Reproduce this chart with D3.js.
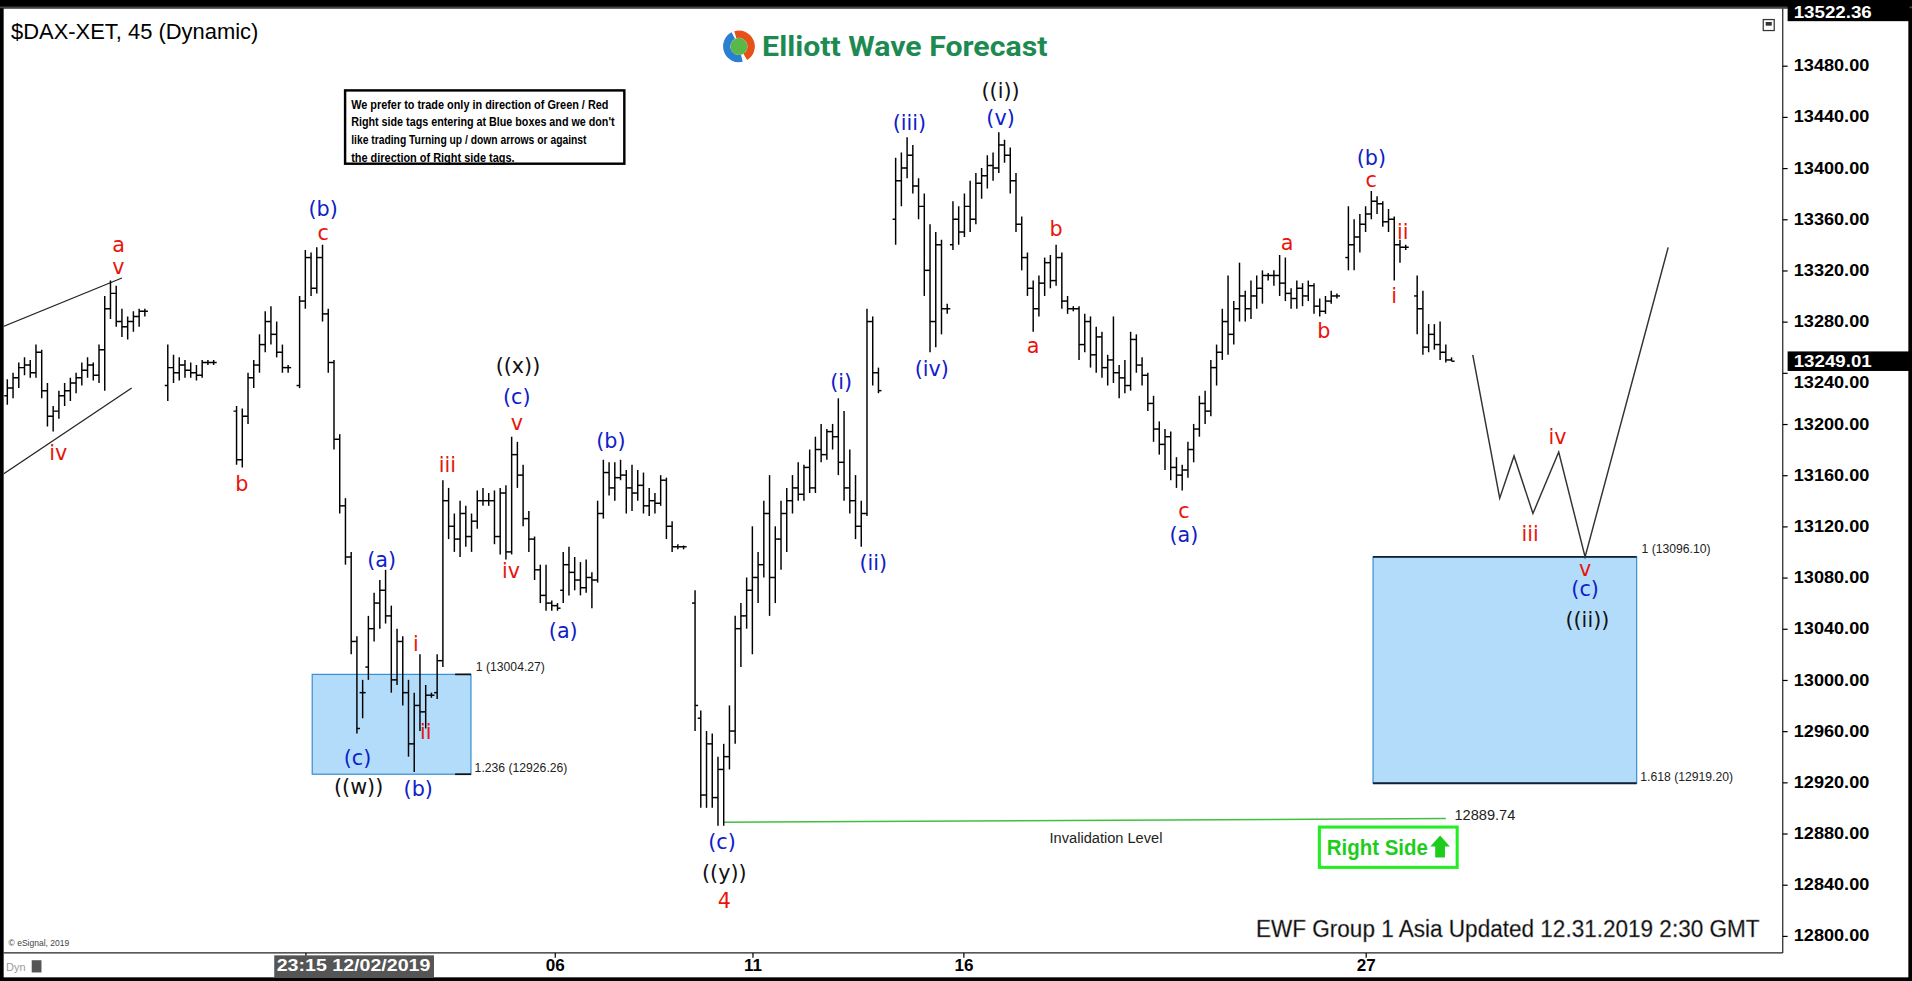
<!DOCTYPE html>
<html><head><meta charset="utf-8">
<script src="https://cdn.jsdelivr.net/npm/d3@7/dist/d3.min.js"></script>
<style>html,body{margin:0;padding:0;background:#000;overflow:hidden}</style>
</head><body>
<svg id="c" width="1912" height="981" viewBox="0 0 1568 803" preserveAspectRatio="none"></svg>
<script>
// OHLC bars [open, high, low, close]; null = session gap
const bars = [
[13222,13235,13215,13228],[13228,13240,13220,13236],[13236,13248,13228,13244],[13244,13252,13238,13246],[13246,13250,13236,13240],
[13240,13262,13236,13256],[13256,13258,13220,13226],[13226,13232,13198,13206],[13206,13214,13194,13210],[13210,13226,13204,13222],
[13222,13232,13214,13226],[13226,13236,13218,13232],[13232,13240,13224,13236],[13236,13248,13230,13242],[13242,13252,13236,13246],
[13246,13248,13234,13238],[13238,13262,13232,13258],[13258,13300,13226,13290],[13290,13312,13282,13302],[13302,13308,13276,13280],
[13280,13290,13268,13276],[13276,13284,13266,13280],[13280,13288,13272,13284],[13284,13290,13276,13288],[13288,13290,13284,13288],
null,null,null,
[13230,13262,13218,13244],[13244,13254,13232,13240],[13240,13252,13234,13246],[13246,13250,13236,13242],[13242,13248,13236,13240],
[13240,13246,13234,13238],[13238,13250,13236,13248],[13248,13250,13246,13248],[13248,13250,13246,13248],
null,null,null,
[13210,13214,13168,13172],[13172,13212,13166,13206],[13206,13240,13200,13236],[13236,13250,13228,13246],[13246,13270,13240,13262],
[13262,13288,13256,13280],[13280,13292,13262,13270],[13270,13280,13252,13256],[13256,13262,13240,13244],[13244,13246,13240,13244],
null,
[13230,13300,13228,13296],[13296,13336,13290,13330],[13330,13334,13300,13306],[13306,13338,13302,13330],[13330,13340,13280,13286],
[13286,13290,13240,13248],[13248,13250,13180,13188],[13188,13192,13130,13136],[13136,13142,13090,13096],[13096,13100,13020,13030],
[13030,13034,12958,12962],[12990,13000,12970,12990],[13010,13050,13000,13040],[13040,13068,13030,13060],[13060,13078,13040,13070],
[13070,13086,13044,13050],[13050,13058,12990,13000],[13000,13040,12996,13030],[13030,13034,12980,12990],[12990,13000,12940,12950],
[12950,12990,12928,12980],[12980,13020,12960,12975],[12975,12996,12962,12988],[12988,12990,12986,12988],[12990,13020,12985,13015],
[13015,13156,13010,13140],[13140,13150,13110,13120],[13120,13130,13100,13110],[13110,13140,13096,13130],[13130,13136,13104,13112],
[13112,13130,13100,13124],[13124,13148,13118,13140],[13140,13150,13136,13140],[13140,13146,13136,13140],[13140,13148,13106,13112],
[13112,13150,13098,13146],[13146,13152,13094,13100],[13100,13190,13098,13176],[13176,13186,13150,13160],[13160,13168,13120,13126],
[13126,13132,13100,13110],[13110,13112,13078,13086],[13086,13090,13060,13066],[13066,13090,13054,13060],[13060,13062,13054,13058],
[13058,13060,13054,13056],[13070,13100,13060,13090],[13090,13104,13066,13084],[13084,13096,13070,13078],[13078,13092,13066,13072],
[13072,13094,13068,13080],[13080,13084,13056,13078],[13078,13140,13076,13130],[13130,13172,13126,13162],[13162,13170,13144,13150],
[13150,13170,13140,13158],[13158,13172,13156,13160],[13160,13164,13130,13150],[13150,13168,13132,13146],[13146,13164,13140,13152],
[13152,13162,13130,13136],[13136,13150,13128,13140],[13140,13146,13130,13138],[13138,13160,13136,13156],[13156,13158,13110,13120],
[13120,13124,13100,13104],[13104,13106,13102,13104],[13104,13105,13102,13104],null,
[13060,13070,12960,12980],[12970,12976,12900,12910],[12910,12960,12900,12950],[12950,12958,12900,12908],[12908,12940,12886,12930],
[12930,12950,12886,12940],[12940,12980,12930,12960],[12960,13050,12950,13040],[13040,13060,13010,13050],[13050,13080,13040,13070],
[13070,13120,13020,13080],[13080,13100,13060,13090],[13090,13140,13080,13130],[13130,13160,13050,13080],[13080,13120,13060,13110],
[13110,13140,13086,13130],[13130,13150,13100,13140],[13140,13160,13130,13150],[13150,13170,13140,13145],[13145,13168,13140,13166],
[13166,13180,13146,13150],[13150,13190,13146,13180],[13180,13200,13170,13176],[13176,13196,13172,13194],[13194,13200,13180,13190],
[13190,13220,13160,13170],[13170,13210,13140,13150],[13150,13180,13130,13140],[13140,13160,13110,13120],[13120,13140,13104,13130],
[13130,13290,13128,13280],[13280,13284,13230,13240],[13240,13244,13224,13226],null,null,
[13360,13408,13340,13390],[13390,13412,13370,13400],[13400,13424,13392,13410],[13410,13418,13380,13386],[13386,13392,13360,13370],
[13370,13380,13300,13320],[13320,13356,13256,13280],[13280,13350,13260,13340],[13340,13344,13270,13290],[13290,13294,13286,13290],
[13340,13374,13336,13360],[13360,13370,13340,13350],[13350,13380,13346,13370],[13370,13390,13350,13360],[13360,13396,13356,13388],
[13388,13400,13376,13394],[13394,13410,13384,13402],[13402,13412,13390,13400],[13400,13428,13396,13418],[13418,13422,13404,13410],
[13410,13416,13380,13390],[13390,13396,13350,13356],[13356,13362,13320,13330],[13330,13334,13300,13306],[13306,13312,13272,13290],
[13290,13316,13284,13310],[13310,13330,13300,13326],[13326,13332,13306,13312],[13312,13340,13308,13330],[13330,13334,13290,13296],
[13296,13300,13286,13290],[13290,13292,13288,13290],[13290,13292,13250,13262],[13262,13286,13256,13280],[13280,13284,13244,13254],
[13254,13276,13240,13268],[13268,13272,13236,13244],[13244,13254,13230,13250],[13250,13284,13232,13240],[13240,13246,13220,13236],
[13236,13250,13224,13230],[13230,13272,13226,13266],[13266,13270,13240,13246],[13246,13252,13230,13238],[13238,13240,13210,13216],
[13216,13222,13186,13196],[13196,13202,13176,13184],[13184,13196,13164,13190],[13190,13194,13156,13166],[13166,13174,13150,13160],
[13160,13168,13148,13164],[13164,13186,13158,13180],[13180,13200,13170,13196],[13196,13222,13190,13216],[13216,13226,13200,13210],
[13210,13250,13206,13244],[13244,13262,13230,13256],[13256,13290,13250,13280],[13280,13316,13254,13270],[13270,13296,13262,13290],
[13290,13326,13280,13300],[13300,13304,13280,13290],[13290,13312,13282,13300],[13300,13316,13290,13306],[13306,13320,13294,13316],
[13316,13318,13312,13316],[13316,13320,13308,13316],[13316,13332,13300,13310],[13310,13330,13296,13302],[13302,13306,13290,13298],
[13298,13312,13290,13306],[13306,13310,13292,13300],[13300,13312,13296,13308],[13308,13310,13286,13292],[13292,13298,13284,13288],
[13288,13300,13286,13296],[13296,13304,13294,13300],[13300,13302,13298,13300],null,
[13330,13370,13320,13340],[13340,13360,13320,13346],[13346,13364,13334,13356],[13356,13370,13350,13364],[13364,13382,13360,13374],
[13374,13378,13364,13372],[13372,13374,13354,13358],[13358,13368,13350,13360],[13360,13362,13312,13340],[13340,13344,13326,13338],
[13338,13340,13336,13338],null,
[13300,13316,13270,13290],[13290,13304,13254,13260],[13260,13278,13256,13270],[13270,13278,13258,13262],[13262,13280,13250,13256],
[13256,13262,13248,13250],[13250,13252,13249,13249]
];
// projected path [barIndex, price]
const projIdx = [255.7, 260.4, 262.9, 266.2, 270.7, 275.3, 289.8];
const projPrice = [13254, 13142, 13175, 13130, 13178, 13096.1, 13338];
// wedge lines [idx, price]
const wedgeUpper = [[-1.3,13275],[20,13314]];
const wedgeLower = [[-1.3,13159],[21.7,13228]];
// blue boxes [idxStart, idxEnd, top, bottom, topLabel, bottomLabel]
const boxes = [[53.2,80.9,13004.27,12926.26,"1 (13004.27)","1.236 (12926.26)"],
               [238.3,284.3,13096.10,12919.20,"1 (13096.10)","1.618 (12919.20)"]];
const invalidation = 12889.74;
const lastPrice = 13249.01, highPrice = 13522.36;
const yTicks = d3.range(12800, 13481, 40);
const xTicks = [["23:15 12/02/2019",52],["06",95.5],["11",130],["16",166.8],["27",237]];
// wave labels [text, idx, price, color]
const R="#e8140c", B="#1020c8", K="#111";
const labels = [
["a",19.4,13340,R],["v",19.4,13323,R],["iv",8.9,13177,R],["b",40.9,13153,R],
["(b)",55.1,13368,B],["c",55.1,13349,R],
["((x))",89.1,13245,K],["(c)",88.9,13221,B],["v",88.9,13201,R],
["iii",76.8,13168,R],["iv",87.9,13085,R],["(a)",65.3,13094,B],["i",71.3,13028,R],["ii",73,12959,R],
["(c)",61.1,12939,B],["((w))",61.3,12916,K],["(b)",71.7,12915,B],
["(a)",97,13038,B],["(b)",105.3,13187,B],
["(c)",124.7,12873,B],["((y))",125.1,12849,K],["4",125.1,12827,R],
["(i)",145.5,13233,B],["(ii)",151.1,13091,B],
["(iii)",157.4,13435,B],["((i))",173.3,13460,K],["(v)",173.3,13439,B],["(iv)",161.3,13243,B],
["b",183,13352,R],["a",179,13261,R],["c",205.3,13132,R],["(a)",205.3,13113,B],
["a",223.3,13341,R],["b",229.7,13273,R],
["(b)",238,13408,B],["c",238,13391,R],["ii",243.5,13350,R],["i",242,13300,R],
["iv",270.5,13190,R],["iii",265.7,13114,R],["v",275.3,13087,R],["(c)",275.3,13071,B],["((ii))",275.7,13047,K]
];

const svg = d3.select("#c");
const x = d3.scaleLinear().domain([0,1]).range([6,10.7]);
const y = d3.scaleLinear().domain([12800,13520]).range([766,11.8]);
const font = "Arial, 'Liberation Sans', sans-serif";
const narrow = "'Liberation Sans Narrow', 'Arial Narrow', Arial, sans-serif";

svg.append("rect").attr("width",1568).attr("height",803).attr("fill","#000");
svg.append("rect").attr("x",3).attr("y",7).attr("width",1562).attr("height",793).attr("fill","#fff");
svg.append("line").attr("x1",0).attr("x2",1568).attr("y1",6).attr("y2",6).attr("stroke","#444").attr("stroke-width",1.5);
svg.append("defs").append("clipPath").attr("id","pc").append("rect").attr("x",3).attr("y",7).attr("width",1459).attr("height",773);
const plot = svg.append("g").attr("clip-path","url(#pc)");

// wedge
[wedgeUpper, wedgeLower].forEach(w=>plot.append("line").attr("x1",x(w[0][0])).attr("y1",y(w[0][1])).attr("x2",x(w[1][0])).attr("y2",y(w[1][1])).attr("stroke","#222").attr("stroke-width",1));

// boxes
boxes.forEach((b,i)=>{
  plot.append("rect").attr("x",x(b[0])).attr("y",y(b[2])).attr("width",x(b[1])-x(b[0])).attr("height",y(b[3])-y(b[2]))
    .attr("fill","#b3dcfb").attr("stroke","#3a8fd0").attr("stroke-width",1);
  if(i==1){[b[2],b[3]].forEach(p=>plot.append("line").attr("x1",x(b[0])).attr("x2",x(b[1])).attr("y1",y(p)).attr("y2",y(p)).attr("stroke","#123").attr("stroke-width",1.6));}
  else {[b[2],b[3]].forEach(p=>plot.append("line").attr("x1",x(b[1])-13).attr("x2",x(b[1])).attr("y1",y(p)).attr("y2",y(p)).attr("stroke","#111").attr("stroke-width",1.4));}
  plot.append("text").attr("x",x(b[1])+4).attr("y",y(b[2])-3).text(b[4]).attr("font-size",10).attr("font-family",font).attr("fill","#222");
  plot.append("text").attr("x",x(b[1])+3).attr("y",y(b[3])-2).text(b[5]).attr("font-size",10).attr("font-family",font).attr("fill","#222");
});

// invalidation
plot.append("line").attr("x1",x(125)).attr("x2",x(251)).attr("y1",y(invalidation)+1).attr("y2",y(invalidation)-2).attr("stroke","#40c040").attr("stroke-width",1.2);
plot.append("text").attr("x",x(252.5)).attr("y",y(invalidation)-1).text(invalidation.toFixed(2)).attr("font-size",12).attr("font-family",font).attr("fill","#222");
plot.append("text").attr("x",907).attr("y",y(invalidation)+18).attr("text-anchor","middle").text("Invalidation Level").attr("font-size",12).attr("font-family",font).attr("fill","#222");

// bars
const g = plot.append("g").attr("stroke","#000").attr("stroke-width",1.2);
bars.forEach((d,i)=>{
  if(!d) return;
  const cx = x(i);
  g.append("line").attr("x1",cx).attr("x2",cx).attr("y1",y(d[1])).attr("y2",y(d[2]));
  g.append("line").attr("x1",cx-2.5).attr("x2",cx).attr("y1",y(d[0])).attr("y2",y(d[0]));
  g.append("line").attr("x1",cx).attr("x2",cx+2.5).attr("y1",y(d[3])).attr("y2",y(d[3]));
});

// projection
plot.append("path").attr("d",d3.line()(projIdx.map((v,i)=>[x(v),y(projPrice[i])]))).attr("fill","none").attr("stroke","#333").attr("stroke-width",1.2);

// labels
labels.forEach(l=>plot.append("text").attr("x",x(l[1])).attr("y",y(l[2])).attr("text-anchor","middle").attr("dominant-baseline","central")
  .attr("font-size",17).attr("font-family","Tahoma, 'DejaVu Sans', sans-serif").attr("fill",l[3]).text(l[0]));

// note box
plot.append("rect").attr("x",283).attr("y",74).attr("width",229).attr("height",60).attr("fill","#fff").attr("stroke","#000").attr("stroke-width",2);
[["We prefer to trade only in direction of Green / Red",211],["Right side tags entering at Blue boxes and we don't",216],["like trading Turning up / down arrows or against",193],["the direction of Right side tags.",134]]
 .forEach((t,i)=>plot.append("text").attr("x",288).attr("y",89+i*14.5).text(t[0]).attr("textLength",t[1]).attr("lengthAdjust","spacingAndGlyphs")
   .attr("font-size",10).attr("font-weight","bold").attr("font-family",narrow).attr("fill","#000"));

// Right side tag
plot.append("rect").attr("x",1082).attr("y",677).attr("width",113).attr("height",33).attr("fill","#fff").attr("stroke","#22ee22").attr("stroke-width",2.5);
plot.append("text").attr("x",1088).attr("y",700).text("Right Side").attr("textLength",83).attr("lengthAdjust","spacingAndGlyphs").attr("font-size",18).attr("font-weight","bold").attr("font-family",narrow).attr("fill","#1ecc1e");
plot.append("path").attr("d","M1177,702 L1177,693 L1173,693 L1181,684 L1189,693 L1185,693 L1185,702 Z").attr("fill","#1ecc1e");

// title & logo
svg.append("text").attr("x",9).attr("y",32).text("$DAX-XET, 45 (Dynamic)").attr("font-size",18).attr("font-family",font).attr("fill","#000");
const lg = svg.append("g").attr("transform","translate(606,38)");
lg.append("path").attr("d",d3.arc()({innerRadius:7,outerRadius:13,startAngle:-0.3,endAngle:2.6})).attr("fill","#e8501a");
lg.append("path").attr("d",d3.arc()({innerRadius:7,outerRadius:13,startAngle:2.9,endAngle:5.8})).attr("fill","#2a7fd0");
lg.append("circle").attr("r",7).attr("fill","#5ab84a");
svg.append("text").attr("x",625).attr("y",46).text("Elliott Wave Forecast").attr("textLength",234).attr("lengthAdjust","spacingAndGlyphs").attr("font-size",22).attr("font-weight","bold").attr("font-family","Roboto, Arial, sans-serif").attr("fill","#1d8a52");

// footer
svg.append("text").attr("x",1030).attr("y",767).text("EWF Group 1 Asia Updated 12.31.2019 2:30 GMT").attr("textLength",413).attr("lengthAdjust","spacingAndGlyphs").attr("font-size",19).attr("font-family",narrow).attr("fill","#000").attr("stroke","#888").attr("stroke-width",0.4);
svg.append("text").attr("x",7).attr("y",774).text("© eSignal, 2019").attr("font-size",7).attr("font-family",font).attr("fill","#444");

// right axis
svg.append("line").attr("x1",1462).attr("x2",1462).attr("y1",7).attr("y2",780).attr("stroke","#222");
svg.append("line").attr("x1",3).attr("x2",1462).attr("y1",780).attr("y2",780).attr("stroke","#222");
const ya = svg.append("g").attr("transform","translate(1462,0)")
  .call(d3.axisRight(y).tickValues(yTicks).tickSize(4).tickFormat(d3.format(".2f")));
ya.select(".domain").remove();
ya.selectAll("text").attr("font-size",13).attr("font-weight","bold").attr("font-family",narrow).attr("fill","#000").attr("x",9)
  .attr("textLength",62).attr("lengthAdjust","spacingAndGlyphs");
ya.selectAll(".tick").filter(d=>d===13240).select("text").attr("dy","0.95em");
[[highPrice],[lastPrice]].forEach(([p])=>{
  svg.append("rect").attr("x",1466).attr("y",y(p)-8).attr("width",100).attr("height",16).attr("fill","#000");
  svg.append("text").attr("x",1471).attr("y",y(p)+5).text(p.toFixed(2)).attr("textLength",64).attr("lengthAdjust","spacingAndGlyphs").attr("font-size",13).attr("font-weight","bold").attr("font-family",narrow).attr("fill","#fff");
});
svg.append("rect").attr("x",1446).attr("y",16).attr("width",9).attr("height",9).attr("fill","#fff").attr("stroke","#333");
svg.append("rect").attr("x",1448).attr("y",18).attr("width",5).attr("height",3).attr("fill","#333");

// bottom axis
const xa = svg.append("g").attr("transform","translate(0,780)")
  .call(d3.axisBottom(x).tickValues(xTicks.map(t=>t[1])).tickSize(4).tickFormat((d,i)=>xTicks[i][0]));
xa.select(".domain").remove();
xa.selectAll("text").attr("font-size",14).attr("font-weight","bold").attr("font-family",narrow).attr("fill","#000").attr("dy","0.55em");
xa.selectAll(".tick").filter((d,i)=>i===0).each(function(){
  const t=d3.select(this); t.insert("rect","text").attr("x",-26).attr("y",2).attr("width",131).attr("height",18).attr("fill","#555");
  t.select("text").attr("fill","#fff").attr("text-anchor","start").attr("x",-24).attr("textLength",126).attr("lengthAdjust","spacingAndGlyphs");
});
svg.append("text").attr("x",5).attr("y",795).text("Dyn").attr("font-size",9).attr("font-family",font).attr("fill","#999");
svg.append("rect").attr("x",26).attr("y",786).attr("width",8).attr("height",10).attr("fill","#555");
</script></body></html>
